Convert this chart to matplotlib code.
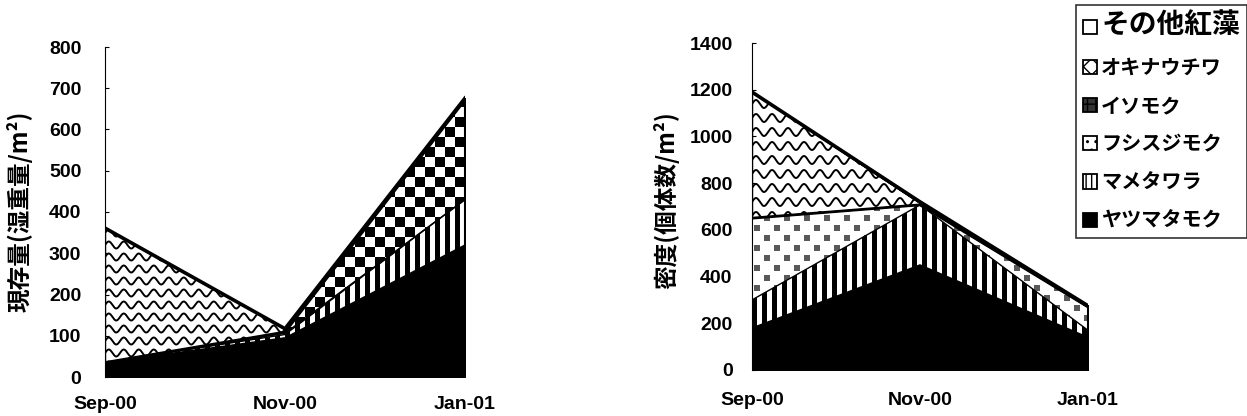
import numpy as np
import matplotlib
matplotlib.use("Agg")
import matplotlib.pyplot as plt
from matplotlib.patches import Patch

# ---------------- data ----------------
dates = ["Sep-00", "Nov-00", "Jan-01"]
species = ["ヤツマタモク", "マメタワラ", "フシスジモク", "イソモク", "オキナウチワ", "その他紅藻"]

# standing crop (wet weight / m2)
biomass_yatsumatamoku = [35, 95, 320]
biomass_mametawara = [0, 8, 110]
biomass_fushisujimoku = [0, 3, 0]
biomass_isomoku = [0, 3, 242]
biomass_okinawachiwa = [326, 8, 0]
biomass_other_red = [0, 0, 4]

# density (individuals / m2)
density_yatsumatamoku = [180, 450, 140]
density_mametawara = [120, 257, 30]
density_fushisujimoku = [350, 0, 100]
density_isomoku = [0, 0, 0]
density_okinawachiwa = [540, 8, 5]
density_other_red = [0, 5, 0]

left_yticks = [0, 100, 200, 300, 400, 500, 600, 700, 800]
right_yticks = [0, 200, 400, 600, 800, 1000, 1200, 1400]

W, H, DPI = 12.47, 4.16, 100
fig = plt.figure(figsize=(W, H), dpi=DPI)

JP = ["Noto Sans CJK JP", "DejaVu Sans"]
NUM = ["Liberation Sans", "DejaVu Sans"]


def pattern(kind, w, h):
    yy, xx = np.mgrid[0:h, 0:w]
    img = np.ones((h, w, 4))
    if kind == "stripes":
        m = (xx % 10) < 5
        img[m, :3] = 0.0
    elif kind == "checker":
        m = ((xx // 10) + (yy // 10)) % 2 == 0
        img[m, :3] = 0.0
    elif kind == "speckle":
        cx, cy = xx // 10, yy // 10
        ox, oy = xx % 10, yy % 10
        m = ((cx + cy) % 2 == 0) & (ox > 1) & (ox < 8) & (oy > 1) & (oy < 8)
        img[m, :3] = 0.35
    return img


def draw(ax, series, ymax, yticks, ylabel, wpx, hpx, label_xy, wave):
    x = np.arange(len(dates))
    kinds = ["black", "stripes", "speckle", "checker", "waves", "white"]
    base = np.zeros(len(dates))
    tops = []
    for vals, kind in zip(series, kinds):
        vals = np.asarray(vals, float)
        top = base + vals
        fc = "black" if kind == "black" else "white"
        coll = ax.fill_between(x, base, top, facecolor=fc, edgecolor="black",
                               linewidth=1.0, zorder=1)
        path = coll.get_paths()[0]
        if kind in ("stripes", "checker", "speckle"):
            im = ax.imshow(pattern(kind, wpx, hpx), extent=(0, 2, 0, ymax),
                           aspect="auto", interpolation="nearest", zorder=2)
            im.set_clip_path(path, ax.transData)
        elif kind == "waves":
            period, spacing, amp = wave
            xs = np.linspace(0, wpx, 800)
            for yk in np.arange(-spacing, hpx + spacing, spacing):
                ys = yk + amp * np.sin(2 * np.pi * xs / period)
                ln, = ax.plot(xs / wpx * 2, ys / hpx * ymax, color="black",
                              lw=1.4, zorder=2)
                ln.set_clip_path(path, ax.transData)
        tops.append(top)
        base = top
    # boundary lines
    for t in tops[:-1]:
        ax.plot(x, t, color="black", lw=1.0, zorder=3)
    ax.plot(x, tops[3], color="black", lw=2.0, zorder=3)
    ax.plot(x, tops[-1], color="black", lw=2.6, zorder=4)
    ax.plot([2, 2], [0, tops[-1][-1]], color="black", lw=1.5, zorder=4)

    ax.set_xlim(0, 2)
    ax.set_ylim(0, ymax)
    ax.set_yticks(yticks)
    ax.set_xticks(x)
    ax.set_xticklabels(dates)
    for s in ("top", "right", "bottom"):
        ax.spines[s].set_visible(False)
    ax.spines["left"].set_linewidth(0.8)
    ax.tick_params(axis="y", direction="in", length=3, width=0.8)
    ax.tick_params(axis="x", length=0)
    for lab in ax.get_yticklabels() + ax.get_xticklabels():
        lab.set_fontfamily(NUM)
        lab.set_fontweight("bold")
        lab.set_fontsize(14)
    ax.set_ylabel(ylabel, fontfamily=JP, fontweight="bold", fontsize=17)
    ax.yaxis.set_label_coords(*label_xy)


# left axes
l_left, l_right, l_bot, l_top = 105, 465, 377, 47
ax1 = fig.add_axes([l_left / 1247, 1 - l_bot / 416, (l_right - l_left) / 1247,
                    (l_bot - l_top) / 416])
draw(ax1, [biomass_yatsumatamoku, biomass_mametawara, biomass_fushisujimoku,
           biomass_isomoku, biomass_okinawachiwa, biomass_other_red],
     800, left_yticks, "現存量(湿重量/m²)", l_right - l_left, l_bot - l_top,
     ((33 - l_left) / (l_right - l_left), (l_bot - 211) / (l_bot - l_top)),
     (15, 12, 3.5))
ax1.tick_params(axis="y", pad=17)
ax1.tick_params(axis="x", pad=14)

# right axes
r_left, r_right, r_bot, r_top = 752, 1088, 370, 43
ax2 = fig.add_axes([r_left / 1247, 1 - r_bot / 416, (r_right - r_left) / 1247,
                    (r_bot - r_top) / 416])
draw(ax2, [density_yatsumatamoku, density_mametawara, density_fushisujimoku,
           density_isomoku, density_okinawachiwa, density_other_red],
     1400, right_yticks, "密度(個体数/m²)", r_right - r_left, r_bot - r_top,
     ((679 - r_left) / (r_right - r_left), (r_bot - 200) / (r_bot - r_top)),
     (16, 14, 4.0))
ax2.tick_params(axis="y", pad=14)
ax2.tick_params(axis="x", pad=16)

# legend
handle_styles = [
    dict(facecolor="black"),
    dict(facecolor="white", hatch="|||"),
    dict(facecolor="white", hatch=".."),
    dict(facecolor="#333333", hatch="++"),
    dict(facecolor="white", hatch="xx"),
    dict(facecolor="white"),
]
handles = [Patch(edgecolor="black", linewidth=1.3, **st) for st in handle_styles]
leg = fig.legend(handles[::-1], species[::-1], loc="upper right",
                 bbox_to_anchor=(1247 / 1247, 1 - 5 / 416),
                 prop=dict(family=JP, weight="bold", size=14.5),
                 frameon=True, fancybox=False, edgecolor="black",
                 handlelength=0.7, handleheight=0.7, handletextpad=0.2,
                 labelspacing=0.85, borderpad=0.35, borderaxespad=0)
leg.get_texts()[0].set_fontsize(20)
leg.get_frame().set_linewidth(1.2)

fig.savefig("out.png", dpi=DPI)
